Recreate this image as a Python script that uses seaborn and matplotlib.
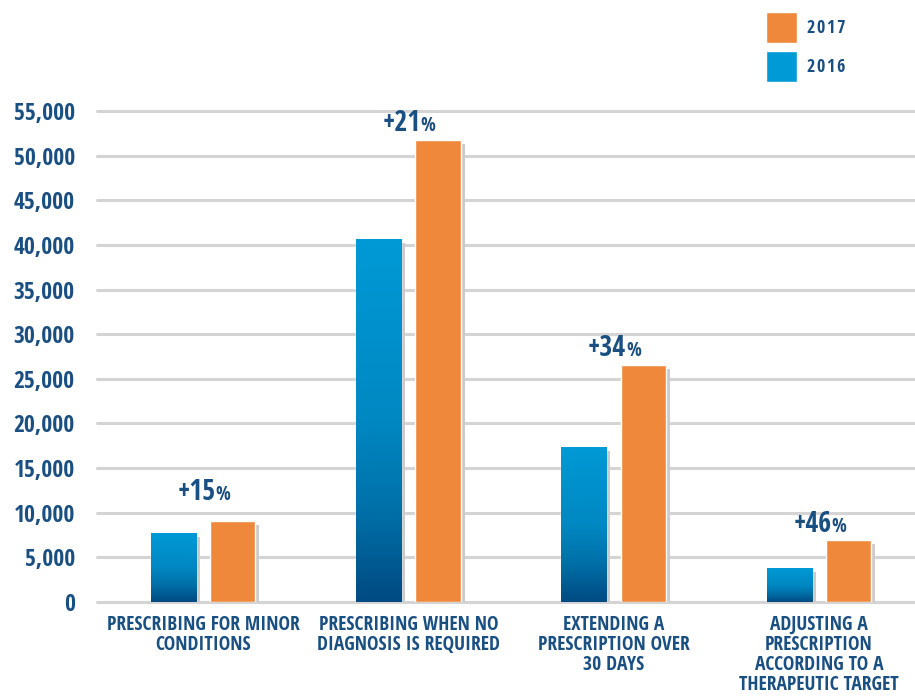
import matplotlib as mpl
mpl.use('Agg')
from matplotlib import pyplot as plt
from matplotlib import patheffects as pe
from matplotlib.colors import LinearSegmentedColormap
from matplotlib.patches import Patch
import numpy as np
import pandas as pd
import seaborn as sb

categories = ["PRESCRIBING FOR MINOR\nCONDITIONS",
              "PRESCRIBING WHEN NO\nDIAGNOSIS IS REQUIRED",
              "EXTENDING A\nPRESCRIPTION OVER\n30 DAYS",
              "ADJUSTING A\nPRESCRIPTION\nACCORDING TO A\nTHERAPEUTIC TARGET"]
years = ["2016", "2017"]
vals_2016 = [7750, 40650, 17400, 3800]
vals_2017 = [9100, 51800, 26600, 6950]
pct_change = ["+15", "+21", "+34", "+46"]
yticks = [0, 5000, 10000, 15000, 20000, 25000, 30000, 35000, 40000, 45000, 50000, 55000]

navy = '#1a4f82'
orange = '#f0883b'
blue_top = '#009ad6'
grid_c = '#d4d4d4'

sb.set_style('white')
plt.rcParams['font.family'] = ['Liberation Sans Narrow', 'Open Sans Condensed',
                               'Roboto Condensed', 'DejaVu Sans']
plt.rcParams['font.weight'] = 'bold'

df = pd.DataFrame({'category': categories * 2,
                   'year': [years[0]] * 4 + [years[1]] * 4,
                   'value': vals_2016 + vals_2017})

fig = plt.figure(figsize=(9.15, 6.98), dpi=100)
ax = fig.add_axes([97 / 915, 1 - 602 / 698, 818 / 915, (602 - 111) / 698])

sb.barplot(data=df, x='category', y='value', hue='year', hue_order=years,
           palette=[blue_top, orange], saturation=1, width=0.58, gap=0.24,
           legend=False, ax=ax, zorder=2)

# grey drop shadow on every bar
shadow = [pe.SimplePatchShadow(offset=(2.9, -2.9), shadow_rgbFace='#cbcbcb', alpha=1),
          pe.Normal()]
for bar in ax.patches:
    bar.set_path_effects(shadow)

# blue gradient on the 2016 bars
cmap = LinearSegmentedColormap.from_list(
    'bl', [(0, '#004a82'), (0.25, '#0070a8'), (0.5, '#0088c2'), (1, blue_top)])
grad = np.linspace(0, 1, 256).reshape(-1, 1)
for bar in ax.containers[0]:
    x0, y0 = bar.get_x(), bar.get_y()
    im = ax.imshow(grad, cmap=cmap, origin='lower', aspect='auto',
                   extent=[x0, x0 + bar.get_width(), y0, y0 + bar.get_height()],
                   zorder=2.5, interpolation='bilinear')
    im.set_clip_path(bar)

for t in yticks:
    ax.axhline(t, color=grid_c, lw=2.2, zorder=0.5, clip_on=False)

ax.set_xlim(-0.516, 3.468)
ax.set_ylim(0, 55000)
ax.set_yticks(yticks)
ax.set_yticklabels(['{:,}'.format(t) for t in yticks])
ax.tick_params(axis='y', length=0, pad=16, labelsize=17, labelcolor=navy)
ax.tick_params(axis='x', length=0, pad=9, labelsize=14, labelcolor=navy)
for lab in ax.get_xticklabels():
    lab.set_linespacing(1.02)
ax.set_xlabel('')
ax.set_ylabel('')
sb.despine(ax=ax, left=True, bottom=True)

pct_pad = [15, 6, 6, 6]
for i, (p, v) in enumerate(zip(pct_change, vals_2017)):
    ax.annotate(p, xy=(i, v), xytext=(9.0, pct_pad[i]), textcoords='offset points',
                ha='right', va='baseline', fontsize=20, color=navy, fontweight='bold')
    ax.annotate('%', xy=(i, v), xytext=(9.0, pct_pad[i]), textcoords='offset points',
                ha='left', va='baseline', fontsize=14, color=navy, fontweight='normal')

leg = fig.legend([Patch(facecolor=orange), Patch(facecolor=blue_top)],
                 ['\u200a'.join('2017'), '\u200a'.join('2016')],
                 loc='upper left', bbox_to_anchor=(766 / 915, 1 - 12 / 698),
                 frameon=False, borderpad=0, borderaxespad=0, handlelength=1.72,
                 handleheight=2.26, handletextpad=0.55, labelspacing=0.45,
                 prop={'size': 13, 'weight': 'bold'}, labelcolor=navy)

# gradient square for the 2016 legend entry
fig.canvas.draw()
bb = leg.legend_handles[1].get_window_extent().transformed(fig.transFigure.inverted())
lax = fig.add_axes([bb.x0, bb.y0, bb.width, bb.height])
lax.imshow(grad, cmap=LinearSegmentedColormap.from_list('lg', ['#0072ab', blue_top]),
           origin='lower', aspect='auto')
lax.axis('off')

fig.savefig('out.png', dpi=100)
